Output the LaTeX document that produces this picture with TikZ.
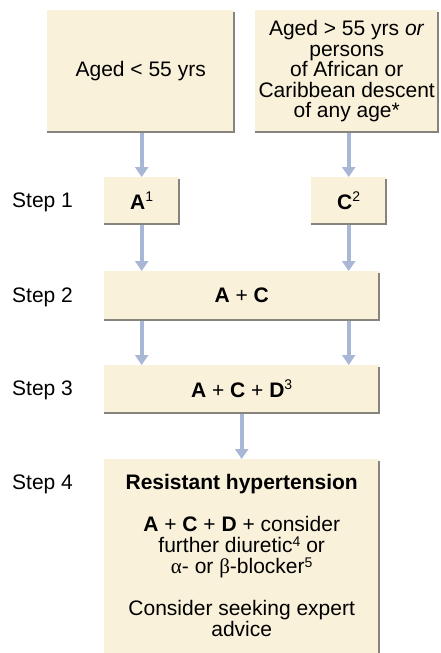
\documentclass[tikz,border=0pt]{standalone}
\usepackage{fontspec}
\setmainfont{Liberation Sans}
\newfontfamily\grk{Liberation Serif}
\usetikzlibrary{arrows.meta}
\definecolor{boxfill}{RGB}{250,241,218}
\definecolor{shadeline}{RGB}{135,131,125}
\definecolor{arrowc}{RGB}{168,183,214}
\newcommand\supnum[2][8pt]{\raisebox{#1}{\fontsize{14}{14}\selectfont #2}}
\begin{document}
\begin{tikzpicture}[x=1pt,y=-1pt,
  every node/.style={font=\fontsize{21}{20.5}\selectfont, inner sep=0pt},
  panel/.style={fill=boxfill, draw=none, rectangle, align=center, anchor=north west},
  flow/.style={draw=arrowc, line width=4pt, -{Triangle[width=13pt,length=10pt]}},
  edgeline/.style={draw=shadeline, line width=2pt},
  steplabel/.style={anchor=base west}]
\useasboundingbox (0,0) rectangle (440,653);

% boxes
\node[panel, minimum width=187pt, minimum height=122pt] (age1) at (47,10) {Aged < 55 yrs};
\node[panel, minimum width=183pt, minimum height=122pt] (age2) at (255,10)
  {Aged > 55 yrs \textit{or}\\persons\\of African or\\Caribbean descent\\of any age*};
\node[panel, minimum width=75pt, minimum height=47pt] (stepA) at (104,177) {\textbf{A}\supnum{1}};
\node[panel, minimum width=75pt, minimum height=47pt] (stepC) at (311,177) {\textbf{C}\supnum{2}};
\node[panel, minimum width=275pt, minimum height=49pt] (box2) at (104,271) {\textbf{A} + \textbf{C}};
\node[panel, minimum width=275pt, minimum height=48pt] (box3) at (104,365) {\textbf{A} + \textbf{C} + \textbf{D}\supnum{3}};
\node[panel, minimum width=275pt, minimum height=196pt] (box4) at (104,459) {};
\node[anchor=north, align=center, font=\fontsize{21}{21}\selectfont] (box4text) at ([yshift=-15pt]box4.north)
  {\textbf{Resistant hypertension}\\[21pt]
   \textbf{A} + \textbf{C} + \textbf{D} + consider\\
   further diuretic\supnum[6pt]{4} or\\
   {\grk α}- or {\grk β}-blocker\supnum[6pt]{5}\\[21pt]
   Consider seeking expert\\
   advice};

% step labels
\node[steplabel] (lab1) at (12,207) {Step 1};
\node[steplabel] (lab2) at (12,302) {Step 2};
\node[steplabel] (lab3) at (12,395) {Step 3};
\node[steplabel] (lab4) at (12,489) {Step 4};

% arrows
\draw[flow] (stepA.north |- age1.south) -- (stepA.north);
\draw[flow] (stepC.north |- age2.south) -- (stepC.north);
\draw[flow] (stepA.south) -- (stepA.south |- box2.north);
\draw[flow] (stepC.south) -- (stepC.south |- box2.north);
\draw[flow] (stepA.south |- box2.south) -- (stepA.south |- box3.north);
\draw[flow] (stepC.south |- box2.south) -- (stepC.south |- box3.north);
\draw[flow] (box3.south) -- (box4.north);

% shaded edges
\draw[edgeline] ([yshift=-2pt]age1.north east) -- (age1.south east) -- (age1.south west);
\draw[edgeline] ([yshift=-2pt]age2.north east) -- (age2.south east) -- (age2.south west);
\draw[edgeline] ([yshift=-2pt]stepA.north east) -- (stepA.south east) -- (stepA.south west);
\draw[edgeline] ([yshift=-2pt]stepC.north east) -- (stepC.south east) -- (stepC.south west);
\draw[edgeline] ([yshift=-2pt]box2.north east) -- (box2.south east) -- (box2.south west);
\draw[edgeline] ([yshift=-2pt]box3.north east) -- (box3.south east) -- (box3.south west);
\draw[edgeline] ([yshift=-2pt]box4.north east) -- (box4.south east);
\end{tikzpicture}
\end{document}
